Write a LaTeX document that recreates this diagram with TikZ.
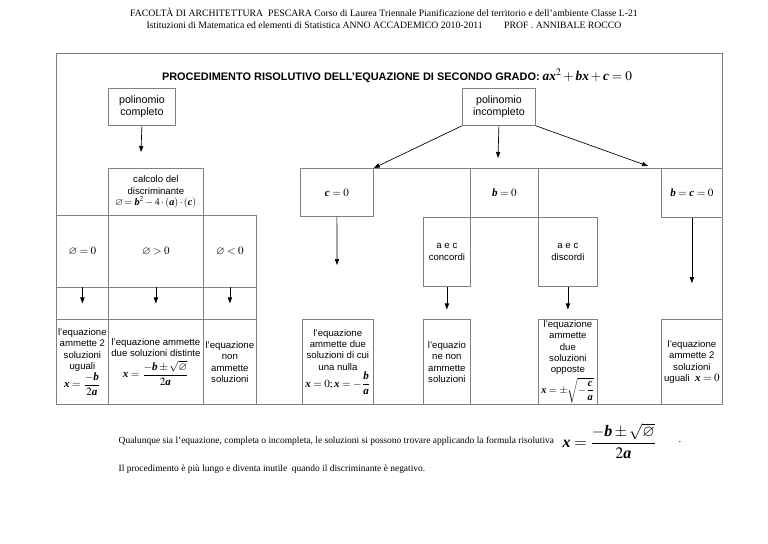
\documentclass[tikz,border=0pt]{standalone}
\usepackage{amsmath,amssymb}
\usepackage{mathptmx}
\usepackage{fontspec}
\setmainfont{Liberation Serif}
\setsansfont{Liberation Sans}
\usetikzlibrary{arrows.meta}
\definecolor{linegray}{gray}{0.5}
\newcommand{\bi}[1]{\textbf{\textit{#1}}}
\newcommand{\vn}{\varnothing}
\newcommand{\mf}{\rmfamily\fontsize{8.3}{9.5}\selectfont}
\tikzset{
  cell/.style 2 args={draw=linegray, line width=0.6pt, anchor=north west, inner sep=0.5pt,
    align=center, minimum width=#1*0.75pt, minimum height=#2*0.75pt,
    font=\sffamily\fontsize{7.2}{8.6}\selectfont},
  tip/.style={-{Triangle[length=4.5pt,width=3.2pt]}, line width=0.5pt},
}
\begin{document}
\begin{tikzpicture}[x=0.75pt,y=-0.75pt]
\useasboundingbox (0,0) rectangle (768,543);
% intestazione
\node[font=\fontsize{7.3}{9}\selectfont, align=center] (head) at (384,18)
  {FACOLTÀ DI ARCHITETTURA\ \ PESCARA Corso di Laurea Triennale Pianificazione del territorio e dell’ambiente Classe L-21\\
   Istituzioni di Matematica ed elementi di Statistica ANNO ACCADEMICO 2010-2011\hspace{2.2em}PROF . ANNIBALE ROCCO};
\draw[linegray, line width=0.6pt] (56,53) rectangle (722,404);
\node[font=\sffamily\bfseries\fontsize{8.2}{10}\selectfont] (title) at (397,76)
  {PROCEDIMENTO RISOLUTIVO DELL'EQUAZIONE DI SECONDO GRADO: {\normalfont\fontsize{10}{11}\selectfont $\bi{ax}^2+\bi{bx}+\bi{c}=0$}};
% polinomio completo
\node[cell={67}{37}, font=\sffamily\fontsize{8}{9.5}\selectfont] (compl) at (108,88) {polinomio\\completo};
\node[cell={95}{47}] (calc) at (108,168)
  {calcolo del\\discriminante\\ {\rmfamily\fontsize{7.6}{9}\selectfont $\vn\!=\bi{b}^2-4\cdot(\bi{a})\cdot(\bi{c})$}};
\node[cell={52}{72}] (d0) at (56,215) {\mf $\vn=0$};
\node[cell={95}{72}] (dp) at (108,215) {\mf $\vn>0$};
\node[cell={53}{72}] (dn) at (203,215) {\mf $\vn<0$};
\node[cell={52}{32}] (a0) at (56,287) {};
\node[cell={95}{32}] (ap) at (108,287) {};
\node[cell={53}{32}] (an) at (203,287) {};
\node[cell={52}{85}] (s0) at (56,319)
  {l'equazione\\ammette 2\\soluzioni\\uguali\\ {\mf $\bi{x}=\dfrac{-\bi{b}}{2\bi{a}}$}};
\node[cell={95}{85}] (sp) at (108,319)
  {l'equazione ammette\\due soluzioni distinte\\[2pt] {\mf $\bi{x}=\dfrac{-\bi{b}\pm\sqrt{\vn}}{2\bi{a}}$}};
\node[cell={53}{85}] (sn) at (203,319) {l'equazione\\non\\ammette\\soluzioni};
% polinomio incompleto
\node[cell={73}{37}, font=\sffamily\fontsize{8}{9.5}\selectfont] (incompl) at (462,88) {polinomio\\incompleto};
\node[cell={73}{48}] (c0) at (300,168) {\mf $\bi{c}=0$};
\node[cell={68}{49}] (b0) at (470,168) {\mf $\bi{b}=0$};
\node[cell={61}{49}] (bc0) at (661,168) {\mf $\bi{b}=\bi{c}=0$};
\node[cell={47}{69}] (conc) at (423,217) {a e c\\concordi};
\node[cell={59}{69}] (disc) at (538,217) {a e c\\discordi};
\node[cell={71}{85}] (c0sol) at (302,319)
  {l'equazione\\ammette due\\soluzioni di cui\\una nulla\\ {\mf $\bi{x}=0;\bi{x}=-\dfrac{\bi{b}}{\bi{a}}$}};
\node[cell={47}{85}] (concsol) at (423,319) {l'equazio\\ne non\\ammette\\soluzioni};
\node[cell={59}{85}, font=\sffamily\fontsize{7.2}{8.3}\selectfont] (discsol) at (538,319)
  {l'equazione\\ammette\\due\\soluzioni\\opposte\\[1.5pt] {\rmfamily\fontsize{7.8}{9}\selectfont $\bi{x}=\pm\sqrt{-\dfrac{\bi{c}}{\bi{a}}}$}};
\node[cell={61}{85}] (bcsol) at (661,319) {l'equazione\\ammette 2\\soluzioni\\uguali\ \ {\mf $\bi{x}=0$}};
\draw[linegray, line width=0.6pt] (c0.north east) -- (bc0.north west);
\draw[linegray, line width=0.6pt] (b0.south east) -- (disc.north west);
% frecce
\coordinate (compl end) at (141,152);
\coordinate (mid end) at (498,158);
\coordinate (right end) at (648,166);
\coordinate (c0 end) at (337,265);
\draw[tip] (compl.south) -- (compl end);
\draw[tip] (incompl.south west) -- (c0.north east);
\draw[tip] (incompl.south) -- (mid end);
\draw[tip] (incompl.south east) -- (right end);
\draw[tip] (c0.south) -- (c0 end);
\draw[tip] (conc.south) -- ([yshift=-17pt]conc.south);
\draw[tip] (disc.south) -- ([yshift=-17pt]disc.south);
\draw[tip] (bc0.south) -- ([yshift=-49pt]bc0.south);
\foreach \n in {a0,ap,an}
  \draw[tip] (\n.north) -- (\n.center);
% nota finale
\node[anchor=west, font=\fontsize{7.1}{9}\selectfont] (note1) at (114,441)
  {Qualunque sia l’equazione, completa o incompleta, le soluzioni si possono trovare applicando la formula risolutiva};
\node[anchor=west, font=\fontsize{12}{14}\selectfont] (formula) at (558,441) {$\bi{x}=\dfrac{-\bi{b}\pm\sqrt{\vn}}{2\bi{a}}$};
\node[font=\fontsize{8}{10}\selectfont] (dot) at (680,442) {.};
\node[anchor=west, font=\fontsize{7.1}{9}\selectfont] (note2) at (114,469)
  {Il procedimento è più lungo e diventa inutile\ \ quando il discriminante è negativo.};
\end{tikzpicture}
\end{document}
